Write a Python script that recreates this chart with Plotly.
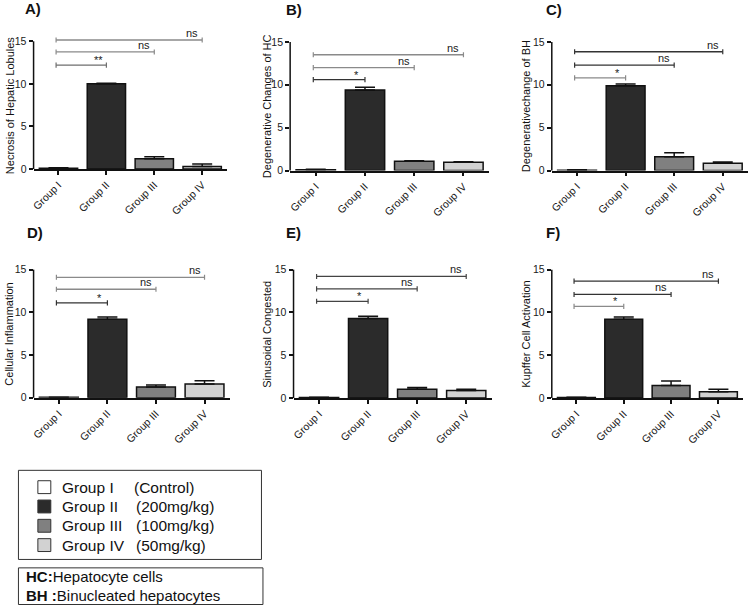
import plotly.graph_objects as go

W, H = 750, 611
FONT = "Liberation Sans, Arial, sans-serif"

# ---------------- data ----------------
groups = ["Group I", "Group II", "Group III", "Group IV"]
doses = ["(Control)", "(200mg/kg)", "(100mg/kg)", "(50mg/kg)"]
panel_letters = ["A)", "B)", "C)", "D)", "E)", "F)"]
y_titles = ["Necrosis of Hepatic Lobules", "Degenerative Changes of HC",
            "Degenerativechange of BH", "Cellular Inflammation",
            "Sinusoidal Congested", "Kupffer Cell Activation"]
y_ticks = [0, 5, 10, 15]

necrosis_mean = [0.1, 10.0, 1.2, 0.3]
necrosis_err = [0.05, 0.08, 0.25, 0.3]
hc_mean = [0.1, 9.4, 1.1, 0.96]
hc_err = [0.05, 0.3, 0.05, 0.08]
bh_mean = [0.05, 9.88, 1.62, 0.85]
bh_err = [0.05, 0.2, 0.45, 0.15]
infl_mean = [0.05, 9.2, 1.25, 1.62]
infl_err = [0.02, 0.25, 0.25, 0.38]
sinus_mean = [0.05, 9.28, 1.04, 0.89]
sinus_err = [0.05, 0.28, 0.18, 0.15]
kupffer_mean = [0.05, 9.2, 1.47, 0.73]
kupffer_err = [0.05, 0.28, 0.53, 0.31]

# significance comparisons: Group I vs Group II / III / IV
sig_A = ["**", "ns", "ns"]
sig_other = ["*", "ns", "ns"]
bracket_A = [12.2, 13.75, 15.15]
bracket_B = [10.6, 12.0, 13.5]
bracket_C = [10.8, 12.3, 13.85]
bracket_D = [11.1, 12.7, 14.1]
bracket_E = [11.3, 12.75, 14.2]
bracket_F = [10.7, 12.1, 13.65]

abbrev_keys = ["HC:", "BH :"]
abbrev_vals = ["Hepatocyte cells", "Binucleated hepatocytes"]

means = [necrosis_mean, hc_mean, bh_mean, infl_mean, sinus_mean, kupffer_mean]
errs = [necrosis_err, hc_err, bh_err, infl_err, sinus_err, kupffer_err]
sigs = [sig_A] + [sig_other] * 5
brackets = [bracket_A, bracket_B, bracket_C, bracket_D, bracket_E, bracket_F]

# ---------------- styles / layout ----------------
bar_colors = ["#ffffff", "#2b2b2b", "#808080", "#d2d2d2"]
bracket_colors = [
    ["#6e6e6e", "#8a8a8a", "#8a8a8a"],
    ["#333333", "#8a8a8a", "#8a8a8a"],
    ["#8a8a8a", "#333333", "#333333"],
    ["#333333", "#8a8a8a", "#8a8a8a"],
    ["#444444", "#444444", "#444444"],
    ["#8a8a8a", "#333333", "#333333"],
]
# pixel geometry of each panel: axis left, axis right, y of 0, y of 15
geo = [
    (30.7, 225.0, 170.7, 41.7),
    (288.3, 488.0, 172.3, 42.3),
    (551.0, 748.0, 172.3, 42.3),
    (30.7, 227.7, 401.7, 272.3),
    (291.7, 490.7, 402.0, 272.3),
    (551.0, 743.0, 402.0, 272.3),
]
title_x = [7, 265, 525, 6, 265, 525]
letter_pos = [(20, 9), (282, 10), (543, 10), (22, 235), (282, 235), (543, 235)]
YMAX = 16.0
XR = [-0.52, 3.52]

fig = go.Figure()
shapes = []
annotations = []

for i in range(6):
    n = i + 1
    xa = "x" if n == 1 else f"x{n}"
    ya = "y" if n == 1 else f"y{n}"
    left, right, zero, top15 = geo[i]
    ppu = (zero - top15) / 15.0
    ytop = zero - YMAX * ppu

    fig.add_trace(go.Bar(
        x=groups, y=means[i], xaxis=xa, yaxis=ya, width=0.8,
        marker=dict(color=bar_colors, line=dict(color="#111111", width=1.5)),
        error_y=dict(type="data", array=errs[i], arrayminus=[0] * 4,
                     symmetric=False, color="#111111", thickness=1.5, width=10),
        showlegend=False, hoverinfo="x+y",
    ))

    xkey = "xaxis" if n == 1 else f"xaxis{n}"
    ykey = "yaxis" if n == 1 else f"yaxis{n}"
    fig.update_layout(**{
        xkey: dict(domain=[left / W, right / W], anchor=ya, range=XR,
                   type="category", showline=True, linecolor="#111111",
                   linewidth=1.5, ticks="outside", ticklen=4, tickwidth=1.5,
                   tickcolor="#111111", tickangle=-45, showgrid=False,
                   zeroline=False, fixedrange=True,
                   tickfont=dict(family=FONT, size=10.5, color="#1a1a1a")),
        ykey: dict(domain=[1 - zero / H, 1 - ytop / H], anchor=xa,
                   range=[0, YMAX], tickvals=y_ticks, ticks="outside",
                   ticklen=4, tickwidth=1.5, tickcolor="#111111",
                   showline=False, showgrid=False, zeroline=False,
                   fixedrange=True,
                   tickfont=dict(family=FONT, size=10.5, color="#1a1a1a")),
    })

    # y axis line (0..15 only, Prism style)
    shapes.append(dict(type="line", xref=f"{xa} domain", yref=f"{ya} domain",
                       x0=0, x1=0, y0=0, y1=15.0 / YMAX,
                       line=dict(color="#111111", width=1.5)))

    # significance brackets
    for k in range(3):
        yb = brackets[i][k]
        c = bracket_colors[i][k]
        xe = k + 1
        shapes.append(dict(type="line", xref=xa, yref=ya, x0=-0.05, x1=xe,
                           y0=yb, y1=yb, line=dict(color=c, width=1.3)))
        for xx in (-0.05, xe):
            shapes.append(dict(type="line", xref=xa, yref=ya, x0=xx, x1=xx,
                               y0=yb - 0.3, y1=yb + 0.3,
                               line=dict(color=c, width=1.2)))
        lab = sigs[i][k]
        if lab == "ns":
            annotations.append(dict(xref=xa, yref=ya, x=xe, y=yb, text=lab,
                                    xanchor="right", yanchor="bottom",
                                    xshift=-2, yshift=-1, showarrow=False,
                                    font=dict(family=FONT, size=11, color="#1a1a1a")))
        else:
            annotations.append(dict(xref=xa, yref=ya, x=xe - 0.17, y=yb,
                                    text=lab, xanchor="center",
                                    yanchor="bottom", yshift=-3,
                                    showarrow=False,
                                    font=dict(family=FONT, size=11, color="#1a1a1a")))

    # y title
    annotations.append(dict(xref="paper", yref="paper", x=title_x[i] / W,
                            y=1 - ((zero + top15) / 2) / H, text=y_titles[i],
                            textangle=-90, showarrow=False, xanchor="center",
                            yanchor="middle",
                            font=dict(family=FONT, size=11, color="#111111")))
    # panel letter
    lx, ly = letter_pos[i]
    annotations.append(dict(xref="paper", yref="paper", x=lx / W, y=1 - ly / H,
                            text=f"<b>{panel_letters[i]}</b>", showarrow=False,
                            xanchor="left", yanchor="middle",
                            font=dict(family=FONT, size=15, color="#111111")))

# ---------------- legend boxes ----------------
def px(x):
    return x / W


def py(y):
    return 1 - y / H


shapes.append(dict(type="rect", xref="paper", yref="paper", x0=px(15.5),
                   x1=px(259.5), y0=py(475), y1=py(565),
                   line=dict(color="#333333", width=1), fillcolor="rgba(0,0,0,0)"))
row_y = [492, 511.5, 531, 550.5]
for k in range(4):
    yc = row_y[k]
    shapes.append(dict(type="rect", xref="paper", yref="paper",
                       x0=px(35), x1=px(48), y0=py(yc + 6.5), y1=py(yc - 6.5),
                       fillcolor=bar_colors[k],
                       line=dict(color="#333333", width=1)))
    annotations.append(dict(xref="paper", yref="paper", x=px(57), y=py(yc),
                            text=groups[k], showarrow=False, xanchor="left",
                            yanchor="middle",
                            font=dict(family=FONT, size=15.5, color="#111111")))
    annotations.append(dict(xref="paper", yref="paper", x=px(130 if k == 0 else 131.5),
                            y=py(yc), text=doses[k], showarrow=False,
                            xanchor="left", yanchor="middle",
                            font=dict(family=FONT, size=15.5, color="#111111")))

shapes.append(dict(type="rect", xref="paper", yref="paper", x0=px(15.5),
                   x1=px(261), y0=py(573.5), y1=py(610.5),
                   line=dict(color="#333333", width=1), fillcolor="rgba(0,0,0,0)"))
for k, yc in enumerate([582, 601]):
    annotations.append(dict(xref="paper", yref="paper", x=px(21), y=py(yc),
                            text=f"<b>{abbrev_keys[k]}</b>{abbrev_vals[k]}",
                            showarrow=False, xanchor="left", yanchor="middle",
                            font=dict(family=FONT, size=15, color="#111111")))

fig.update_layout(
    width=W, height=H, margin=dict(l=0, r=0, t=0, b=0),
    paper_bgcolor="white", plot_bgcolor="white",
    shapes=shapes, annotations=annotations, bargap=0.2,
    font=dict(family=FONT, color="#111111"),
)

fig.write_html("out.html", config={"displayModeBar": False},
               post_script="document.body.style.margin='0';document.body.style.overflow='hidden';")
